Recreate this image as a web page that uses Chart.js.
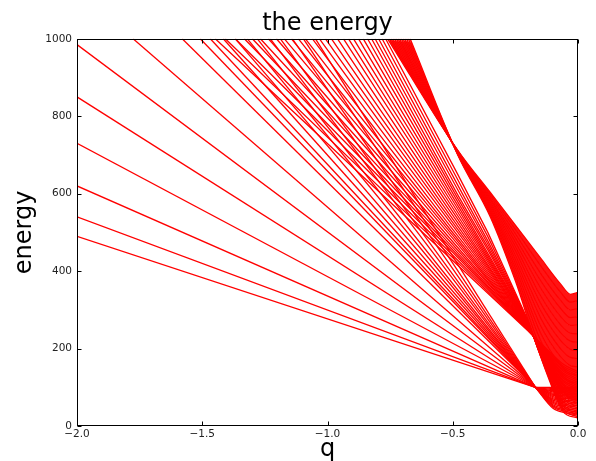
<!DOCTYPE html>
<html>
<head>
<meta charset="utf-8">
<script src="https://cdn.jsdelivr.net/npm/chart.js@4.4.1/dist/chart.umd.min.js"></script>
<style>
  html, body { margin: 0; padding: 0; background: #fff; }
  canvas { display: block; }
</style>
</head>
<body>
<canvas id="energyChart" width="596" height="461"></canvas>
<script>
// axis ticks
const qTicks = [-2.0, -1.5, -1.0, -0.5, 0.0];
const energyTicks = [0, 200, 400, 600, 800, 1000];

// lower fan: straight lines from the left / top edge, all crossing near q=-0.17, E=100
const fanStartG = [-2, -2, -2, -2, -2, -2, -1.776, -1.58, -1.508, -1.468, -1.416, -1.368, -1.32,
                   -1.28, -1.228, -1.188, -1.14, -1.096, -1.048];
const fanStartE = [490, 540, 620, 730, 850, 985, 1000, 1000, 1000, 1000, 1000, 1000, 1000,
                   1000, 1000, 1000, 1000, 1000, 1000];
const fanCross = [-0.17, 100];
// after the crossing they bend down into the bottom of the band
const fanTailG = [-0.1, -0.05, 0];
const fanTail1 = [100, 97, 94, 91, 88, 85, 82, 79, 76, 73, 70, 67, 64, 61, 58, 55, 52, 49, 46];
const fanTail2 = [100, 96.5, 93, 89, 85.5, 82, 78, 74.5, 71, 67, 63.5, 60, 56, 52.5, 49, 45, 41.5, 38, 34];
const fanEndE = [100, 96, 92, 88, 84, 80, 76, 72, 68, 64, 60, 56, 52, 48, 44, 40, 36, 32, 28];

// upper bundle: lines from the top edge squeezing to a tip near q=-0.2
const upTopG = [-1.448, -1.408, -1.368, -1.332, -1.30, -1.268, -1.236, -1.204, -1.172, -1.144, -1.116, -1.088, -1.06, -1.032,
                -1.008, -0.984, -0.96, -0.936, -0.916, -0.896, -0.876, -0.857, -0.84, -0.824, -0.81, -0.796, -0.782, -0.768];
const upBodyG = [-0.48, -0.36, -0.2];
const upBodyA = [415, 422, 428, 435, 441, 447, 454, 461, 469, 476, 483, 491, 500, 508,
                 516, 525, 534, 543, 552, 561, 570, 579, 588, 597, 610, 622, 636, 650];
const upBodyB = [343, 347, 351, 355, 359, 363, 368, 372, 377, 381, 386, 391, 396, 402,
                 407, 412, 417, 423, 429, 434, 440, 446, 455, 462, 470, 478, 489, 500];
const upTipE = [246, 247, 248, 249, 250, 251, 252, 253, 254, 255, 256, 257, 258, 259,
                260, 261, 262, 263, 264, 265, 266, 267, 268, 269, 270, 271, 272, 273];
// past the tip they fall to the lower half of the band
const upTailG = [-0.12, -0.06, 0];
const upTail1 = [196, 193, 191, 188, 186, 183, 181, 178, 176, 173, 171, 168, 166, 163,
                 161, 158, 156, 153, 151, 148, 146, 143, 141, 138, 136, 133, 131, 128];
const upTail2 = [160, 155, 151, 146, 142, 137, 133, 128, 124, 119, 115, 110, 106, 101,
                 97, 92, 88, 83, 79, 74, 70, 65, 61, 56, 52, 47, 43, 38];
const upEndE = [140, 136, 131, 127, 122, 118, 113, 109, 104, 100, 96, 91, 87, 82,
                78, 73, 69, 64, 60, 56, 51, 47, 42, 38, 33, 29, 24, 20];

// solid wedge: enters at the top, pinches near q=-0.48 and spreads into the band at q=0
const wedgeTopG = [-0.76, -0.753, -0.746, -0.739, -0.732, -0.725, -0.718, -0.712, -0.705, -0.698, -0.691, -0.684, -0.677, -0.67];
const wedgeG = [-0.48, -0.35, -0.25, -0.15, -0.07, -0.03, 0];
const wedgePinchE = [712, 711, 710, 709, 708, 707, 706, 706, 705, 704, 703, 702, 701, 700];
const wedgeE1 = [603, 598, 593, 588, 584, 579, 574, 569, 564, 559, 555, 550, 545, 540];
const wedgeE2 = [519, 508, 497, 486, 475, 464, 453, 441, 430, 419, 408, 397, 386, 375];
const wedgeE3 = [434, 415, 395, 376, 357, 337, 318, 299, 280, 260, 241, 222, 202, 183];
const wedgeE4 = [367, 346, 325, 304, 283, 262, 241, 221, 200, 179, 158, 137, 116, 95];
const wedgeE5 = [340, 320, 300, 280, 260, 240, 219, 198, 177, 156, 135, 114, 92, 70];
const wedgeEndE = [345, 324, 303, 282, 261, 238, 216, 195, 174, 153, 132, 111, 89, 67];

Chart.defaults.font.family = 'DejaVu Sans';

const datasets = [];
function addLine(points, extra) {
    datasets.push(Object.assign({
        data: points.map(p => ({ x: p[0], y: p[1] })),
        borderColor: '#ff0000',
        borderWidth: 1.3,
        pointRadius: 0,
        fill: false,
        tension: 0,
        clip: 0
    }, extra || {}));
}
const smooth = { cubicInterpolationMode: 'monotone' };

fanStartG.forEach((g, i) => {
    addLine([[g, fanStartE[i]], fanCross]);
    addLine([fanCross, [fanTailG[0], fanTail1[i]], [fanTailG[1], fanTail2[i]], [fanTailG[2], fanEndE[i]]], smooth);
});

upTopG.forEach((g, i) => {
    addLine([[g, 1000], [upBodyG[0], upBodyA[i]], [upBodyG[1], upBodyB[i]], [upBodyG[2], upTipE[i]]]);
    addLine([[upBodyG[2], upTipE[i]], [upTailG[0], upTail1[i]], [upTailG[1], upTail2[i]], [upTailG[2], upEndE[i]]], smooth);
});

wedgeTopG.forEach((g, i) => {
    const vals = [wedgePinchE[i], wedgeE1[i], wedgeE2[i], wedgeE3[i], wedgeE4[i], wedgeE5[i], wedgeEndE[i]];
    addLine([[g, 1000]].concat(wedgeG.map((wg, k) => [wg, vals[k]])), Object.assign({
        fill: i === 0 ? false : '-1',
        backgroundColor: 'rgba(255, 0, 0, 0.92)'
    }, smooth));
});

// matplotlib-style box with inward ticks
const frame = {
    id: 'frame',
    afterDatasetsDraw(chart) {
        const { ctx, chartArea: a, scales: { x, y } } = chart;
        const l = Math.round(a.left) + 0.5, r = Math.round(a.right) - 0.5;
        const t = Math.round(a.top) + 0.5, b = Math.round(a.bottom) - 0.5;
        ctx.save();
        ctx.strokeStyle = '#000';
        ctx.lineWidth = 1;
        ctx.beginPath();
        qTicks.forEach(v => {
            const px = Math.round(x.getPixelForValue(v)) + 0.5;
            ctx.moveTo(px, b); ctx.lineTo(px, b - 4);
            ctx.moveTo(px, t); ctx.lineTo(px, t + 4);
        });
        energyTicks.forEach(v => {
            const py = Math.round(y.getPixelForValue(v)) + 0.5;
            ctx.moveTo(l, py); ctx.lineTo(l + 4, py);
            ctx.moveTo(r, py); ctx.lineTo(r - 4, py);
        });
        ctx.stroke();
        ctx.strokeRect(l, t, r - l, b - t);
        ctx.restore();
    }
};

new Chart(document.getElementById('energyChart').getContext('2d'), {
    type: 'line',
    data: { datasets: datasets },
    options: {
        responsive: false,
        animation: false,
        devicePixelRatio: 1,
        layout: { padding: { left: 0, right: 18, top: 0, bottom: 0 } },
        plugins: {
            legend: { display: false },
            tooltip: { enabled: false },
            title: {
                display: true,
                text: 'the energy',
                fullSize: false,
                color: '#000',
                font: { size: 24, weight: 'normal' },
                padding: { top: 9.5, bottom: 0.5 }
            }
        },
        scales: {
            x: {
                type: 'linear',
                min: -2,
                max: 0,
                afterBuildTicks: s => { s.ticks = qTicks.map(v => ({ value: v })); },
                afterFit: s => { s.height = 35; },
                grid: { display: false, drawTicks: false },
                border: { display: false },
                ticks: {
                    color: '#222',
                    padding: 2,
                    font: { size: 10.5 },
                    maxRotation: 0,
                    autoSkip: false,
                    callback: v => (v < 0 ? '\u2212' : '') + Math.abs(v).toFixed(1)
                },
                title: {
                    display: true,
                    text: 'q',
                    color: '#000',
                    font: { size: 24, lineHeight: 0.92 },
                    padding: { top: 0, bottom: 0 }
                }
            },
            y: {
                type: 'linear',
                min: 0,
                max: 1000,
                afterBuildTicks: s => { s.ticks = energyTicks.map(v => ({ value: v })); },
                afterFit: s => { s.width = 77; },
                grid: { display: false, drawTicks: false },
                border: { display: false },
                ticks: {
                    color: '#222',
                    padding: 5,
                    font: { size: 10.5 },
                    autoSkip: false,
                    callback: v => String(v)
                },
                title: {
                    display: true,
                    text: 'energy',
                    color: '#000',
                    font: { size: 24 },
                    padding: { top: 10.5, bottom: 0 }
                }
            }
        }
    },
    plugins: [frame]
});
</script>
</body>
</html>
